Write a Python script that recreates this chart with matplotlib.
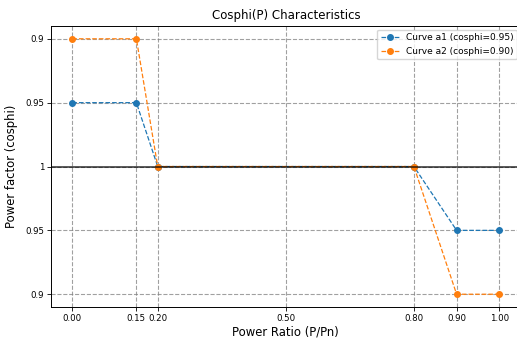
import matplotlib.pyplot as plt

# Data (y in "offset from cosphi=1" units)
p_ratio = [0.0, 0.15, 0.20, 0.80, 0.90, 1.00]
curve_a1 = [0.05, 0.05, 0.0, 0.0, -0.05, -0.05]
curve_a2 = [0.10, 0.10, 0.0, 0.0, -0.10, -0.10]
x_ticks = [0.0, 0.15, 0.20, 0.50, 0.80, 0.90, 1.00]
y_ticks = [0.10, 0.05, 0.0, -0.05, -0.10]
y_tick_labels = ['0.9', '0.95', '1', '0.95', '0.9']

fig = plt.figure(figsize=(5.17, 3.38), dpi=100)
ax = fig.add_axes([0.0986, 0.0917, 0.9085, 0.8313])

ax.plot(p_ratio, curve_a1, 'o--', color='#1f77b4', markersize=4, linewidth=0.9,
        label='Curve a1 (cosphi=0.95)')
ax.plot(p_ratio, curve_a2, 'o--', color='#ff7f0e', markersize=4, linewidth=0.9,
        label='Curve a2 (cosphi=0.90)')
ax.axhline(0, color='black', linewidth=1.2, alpha=0.75)

ax.set_xlim(-0.05, 1.05)
ax.set_ylim(-0.11, 0.11)
ax.set_xticks(x_ticks)
ax.set_xticklabels([f"{v:.2f}" for v in x_ticks])
ax.set_yticks(y_ticks)
ax.set_yticklabels(y_tick_labels)
ax.tick_params(labelsize=6.2, length=3, width=0.6, pad=2)

ax.grid(True, linestyle='--', color='gray', linewidth=0.8, alpha=0.75)

ax.set_title('Cosphi(P) Characteristics', fontsize=8.5, pad=5)
ax.set_xlabel('Power Ratio (P/Pn)', fontsize=8.4, labelpad=1.5)
ax.set_ylabel('Power factor (cosphi)', fontsize=8.4, labelpad=5)
ax.legend(loc='upper right', fontsize=6.5, borderaxespad=0.4)

for s in ax.spines.values():
    s.set_linewidth(0.7)

fig.savefig('out.png', dpi=100)
